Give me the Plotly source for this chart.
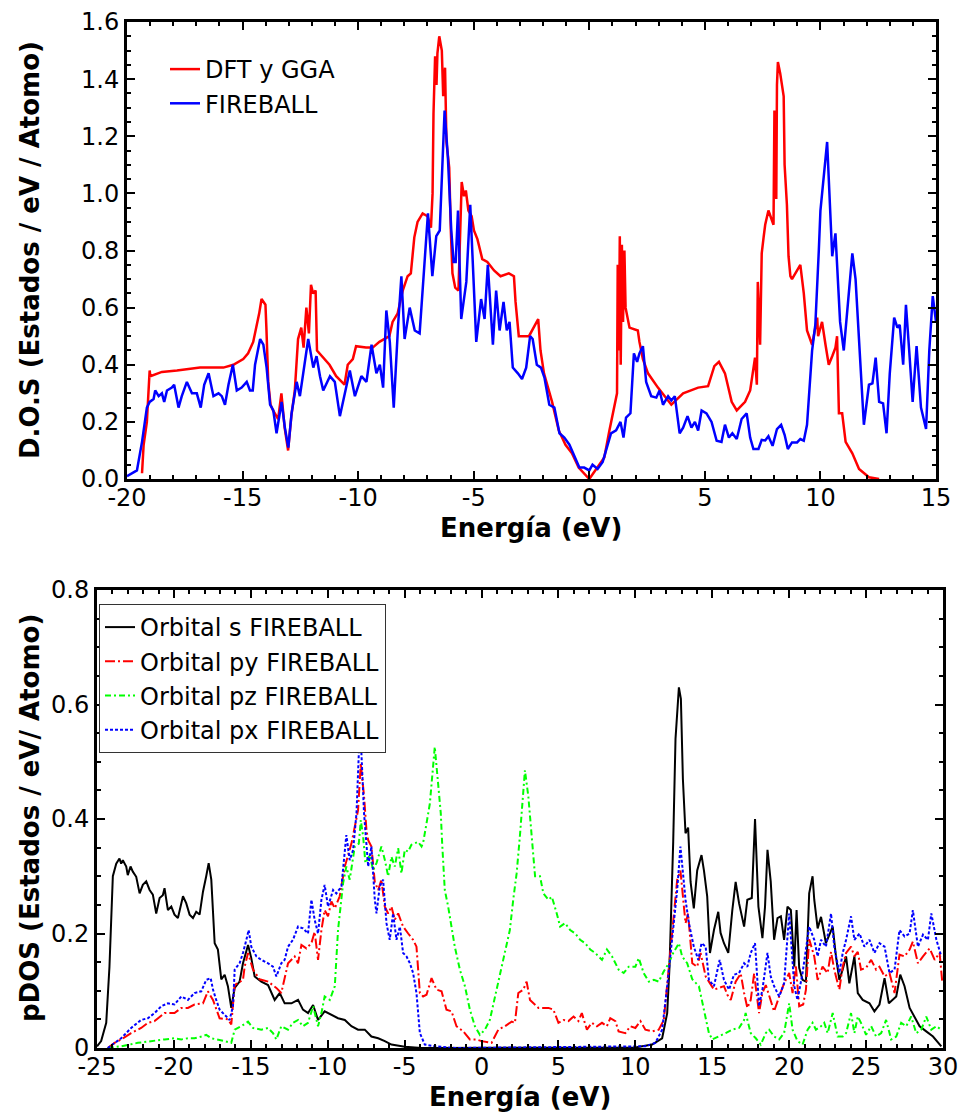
import plotly.graph_objects as go

# ---------------- Top panel: total DOS ----------------
dft_x = [-19.35, -19.28, -19.14, -19.07, -19.02, -18.99, -18.49, -17.84, -16.84, -15.83, -15.40, -14.97,
         -14.76, -14.54, -14.40, -14.28, -14.18, -14.08, -14.01, -13.97, -13.89, -13.79, -13.68, -13.46,
         -13.32, -13.18, -13.03, -12.89, -12.74, -12.60, -12.46, -12.36, -12.24, -12.13, -12.04, -11.95,
         -11.84, -11.78, -11.52, -11.24, -10.95, -10.59, -10.45, -10.23, -10.09, -9.66, -9.37, -9.08,
         -8.65, -8.51, -8.29, -8.07, -7.86, -7.72, -7.57, -7.43, -7.21, -7.00, -6.85, -6.78, -6.74,
         -6.67, -6.61, -6.57, -6.49, -6.38, -6.32, -6.24, -6.18, -6.06, -5.99, -5.92, -5.80, -5.66,
         -5.52, -5.42, -5.34, -5.23, -5.09, -4.99, -4.84, -4.63, -4.41, -4.12, -3.84, -3.48, -3.26,
         -3.19, -3.05, -2.61, -2.21, -2.11, -1.96, -1.61, -1.32, -1.03, -0.75, -0.46, 0.0,
         0.65, 0.87, 1.09, 1.20, 1.23, 1.28, 1.32, 1.36, 1.41, 1.46, 1.52, 1.57, 1.74, 2.10, 2.17,
         2.32, 2.54, 2.97, 3.55, 4.06, 4.71, 5.14, 5.41, 5.61, 5.87, 6.16, 6.38, 6.74, 6.96, 7.17,
         7.25, 7.29, 7.39, 7.46, 7.54, 7.61, 7.75, 7.97, 8.01, 8.09, 8.12, 8.16, 8.26, 8.41, 8.45,
         8.55, 8.62, 8.70, 8.77, 8.91, 9.13, 9.28, 9.42, 9.64, 9.86, 9.90, 10.07, 10.22, 10.36, 10.51,
         10.65, 10.72, 10.80, 10.94, 11.09, 11.38, 11.67, 12.10, 12.54]
dft_y = [0.02, 0.12, 0.20, 0.30, 0.38, 0.36, 0.375, 0.38, 0.39, 0.39, 0.40, 0.42,
         0.44, 0.48, 0.53, 0.58, 0.63, 0.62, 0.61, 0.53, 0.34, 0.26, 0.24, 0.21,
         0.30, 0.18, 0.10, 0.22, 0.31, 0.49, 0.53, 0.46, 0.60, 0.51, 0.68, 0.65,
         0.66, 0.45, 0.425, 0.40, 0.36, 0.33, 0.40, 0.42, 0.465, 0.46, 0.46, 0.48,
         0.50, 0.55, 0.58, 0.66, 0.71, 0.72, 0.846, 0.90, 0.93, 0.92, 0.88, 1.00, 1.28,
         1.48, 1.38, 1.49, 1.55, 1.50, 1.34, 1.44, 1.18, 1.09, 0.87, 0.72, 0.67, 0.66,
         1.04, 0.99, 1.01, 0.94, 0.92, 0.87, 0.84, 0.77, 0.76, 0.73, 0.71, 0.72, 0.71,
         0.62, 0.50, 0.50, 0.56, 0.45, 0.37, 0.27, 0.17, 0.12, 0.09, 0.04, 0.0,
         0.075, 0.17, 0.25, 0.30, 0.75, 0.45, 0.85, 0.40, 0.82, 0.55, 0.80, 0.60, 0.53, 0.52, 0.48,
         0.42, 0.37, 0.32, 0.26, 0.30, 0.32, 0.325, 0.395, 0.41, 0.37, 0.27, 0.24, 0.27, 0.31, 0.425,
         0.33, 0.69, 0.47, 0.79, 0.845, 0.89, 0.94, 0.89, 1.29, 0.98, 1.38, 1.46, 1.42, 1.34, 1.10,
         0.96, 0.78, 0.71, 0.70, 0.72, 0.75, 0.65, 0.52, 0.47, 0.565, 0.50, 0.55, 0.47, 0.40, 0.43,
         0.46, 0.50, 0.23, 0.23, 0.13, 0.09, 0.035, 0.006, 0.0]

fb_x = [-20.00, -19.57, -19.35, -19.14, -19.02, -18.85, -18.78, -18.63, -18.49, -18.39, -18.27, -18.06,
        -17.96, -17.77, -17.63, -17.41, -17.19, -16.98, -16.81, -16.66, -16.47, -16.26, -16.04, -15.90,
        -15.76, -15.61, -15.42, -15.25, -15.04, -14.82, -14.68, -14.56, -14.46, -14.24, -14.10, -13.96,
        -13.81, -13.67, -13.53, -13.31, -13.17, -13.02, -12.88, -12.66, -12.52, -12.37, -12.16, -11.94,
        -11.80, -11.65, -11.51, -11.22, -11.01, -10.79, -10.58, -10.36, -10.14, -9.86, -9.64, -9.42,
        -9.21, -9.06, -8.92, -8.78, -8.63, -8.46, -8.27, -8.13, -7.99, -7.77, -7.55, -7.34, -6.98,
        -6.79, -6.62, -6.47, -6.26, -6.12, -5.97, -5.87, -5.78, -5.68, -5.54, -5.32, -5.15, -4.89,
        -4.68, -4.53, -4.39, -4.17, -4.03, -3.88, -3.71, -3.57, -3.45, -3.31, -3.09, -2.91, -2.73,
        -2.56, -2.45, -2.27, -2.09, -1.94, -1.73, -1.51, -1.29, -1.08, -0.86, -0.65, -0.43, -0.22,
        0.0, 0.14, 0.36, 0.58, 0.72, 0.94, 1.16, 1.35, 1.48, 1.59, 1.78, 1.93, 2.07, 2.17, 2.32,
        2.46, 2.68, 2.90, 3.04, 3.19, 3.41, 3.55, 3.70, 3.91, 4.06, 4.25, 4.42, 4.57, 4.71, 4.86,
        5.07, 5.29, 5.51, 5.72, 5.87, 6.04, 6.19, 6.38, 6.59, 6.81, 6.96, 7.10, 7.32, 7.46, 7.61,
        7.75, 7.93, 8.12, 8.30, 8.45, 8.59, 8.77, 8.99, 9.13, 9.28, 9.42, 9.64, 9.78, 9.93, 10.00,
        10.29, 10.51, 10.65, 10.85, 11.01, 11.23, 11.38, 11.52, 11.67, 11.88, 12.10, 12.25, 12.39,
        12.54, 12.71, 12.86, 13.00, 13.19, 13.33, 13.43, 13.58, 13.70, 13.84, 13.99, 14.16, 14.35,
        14.57, 14.71, 14.86, 15.00]
fb_y = [0.01, 0.03, 0.13, 0.25, 0.27, 0.28, 0.31, 0.29, 0.30, 0.27, 0.31, 0.32,
        0.33, 0.25, 0.29, 0.34, 0.30, 0.30, 0.25, 0.33, 0.37, 0.29, 0.30, 0.29,
        0.26, 0.33, 0.40, 0.31, 0.32, 0.34, 0.31, 0.31, 0.40, 0.49, 0.47, 0.39,
        0.26, 0.24, 0.16, 0.27, 0.18, 0.11, 0.23, 0.34, 0.29, 0.38, 0.49, 0.39,
        0.43, 0.36, 0.31, 0.36, 0.34, 0.22, 0.30, 0.38, 0.29, 0.36, 0.34, 0.47,
        0.37, 0.40, 0.32, 0.59, 0.48, 0.25, 0.54, 0.71, 0.49, 0.60, 0.52, 0.51, 0.93,
        0.71, 0.85, 0.87, 1.29, 1.13, 0.87, 0.76, 0.76, 0.94, 0.56, 0.69, 0.96, 0.48,
        0.63, 0.56, 0.75, 0.47, 0.66, 0.52, 0.62, 0.52, 0.55, 0.39, 0.37, 0.35, 0.39,
        0.50, 0.49, 0.40, 0.39, 0.355, 0.26, 0.25, 0.16, 0.145, 0.12, 0.08, 0.04, 0.04,
        0.03, 0.05, 0.035, 0.06, 0.10, 0.16, 0.17, 0.20, 0.145, 0.215, 0.23, 0.44, 0.41, 0.44, 0.465,
        0.34, 0.29, 0.285, 0.31, 0.26, 0.29, 0.275, 0.29, 0.16, 0.18, 0.22, 0.18, 0.20, 0.17, 0.24,
        0.23, 0.20, 0.134, 0.13, 0.19, 0.145, 0.16, 0.14, 0.21, 0.23, 0.145, 0.105, 0.105, 0.137, 0.135,
        0.15, 0.116, 0.175, 0.19, 0.155, 0.105, 0.128, 0.128, 0.14, 0.134, 0.19, 0.45, 0.54, 0.80, 0.94,
        1.18, 0.78, 0.86, 0.55, 0.45, 0.66, 0.79, 0.70, 0.48, 0.19, 0.33, 0.335, 0.425,
        0.27, 0.265, 0.16, 0.37, 0.565, 0.53, 0.54, 0.40, 0.61, 0.45, 0.27, 0.465, 0.25,
        0.175, 0.45, 0.64, 0.55]

# ---------------- Bottom panel: projected DOS ----------------
s_x = [-25.0, -24.73, -24.40, -24.19, -23.97, -23.75, -23.54, -23.43, -23.32, -23.10, -23.00, -22.82,
       -22.67, -22.45, -22.23, -22.02, -21.80, -21.58, -21.37, -21.15, -20.93, -20.72, -20.61, -20.39,
       -20.17, -19.96, -19.74, -19.41, -19.20, -18.98, -18.76, -18.55, -18.33, -18.11, -17.90, -17.74,
       -17.57, -17.35, -17.14, -16.92, -16.70, -16.49, -16.27, -16.05, -15.73, -15.51, -15.18, -14.97,
       -14.75, -14.32, -13.88, -13.45, -13.12, -12.80, -12.36, -11.93, -11.61, -11.28, -10.95, -10.63,
       -10.20, -9.76, -9.33, -8.89, -8.46, -8.03, -7.59, -7.16, -6.72, -6.29, -5.86, -4.99, -3.90,
       10.00, 11.09, 11.74, 12.07, 12.22, 12.35, 12.46, 12.61, 12.83, 12.96, 13.09, 13.26, 13.43,
       13.59, 13.80, 14.02, 14.30, 14.46, 14.67, 14.85, 15.11, 15.39, 15.54, 15.76, 16.04, 16.30,
       16.52, 16.74, 17.07, 17.28, 17.57, 17.78, 18.00, 18.26, 18.43, 18.59, 18.80, 19.02, 19.24,
       19.46, 19.67, 19.89, 20.11, 20.33, 20.48, 20.65, 20.87, 21.09, 21.30, 21.52, 21.63, 21.85,
       22.07, 22.39, 22.83, 23.04, 23.26, 23.48, 23.70, 23.91, 24.24, 24.46, 24.78, 25.22, 25.54,
       25.87, 26.20, 26.48, 26.74, 26.96, 27.22, 27.50, 27.83, 28.15, 28.48, 28.91, 29.35, 29.89]
s_y = [0.003, 0.012, 0.044, 0.142, 0.300, 0.322, 0.331, 0.322, 0.328, 0.317, 0.302, 0.317,
       0.308, 0.299, 0.270, 0.285, 0.291, 0.276, 0.268, 0.235, 0.262, 0.267, 0.279, 0.241,
       0.247, 0.233, 0.227, 0.265, 0.253, 0.233, 0.227, 0.238, 0.233, 0.273, 0.300, 0.323,
       0.294, 0.183, 0.172, 0.120, 0.128, 0.108, 0.070, 0.105, 0.116, 0.148, 0.180, 0.157,
       0.125, 0.116, 0.110, 0.084, 0.096, 0.078, 0.078, 0.084, 0.067, 0.061, 0.075, 0.049,
       0.064, 0.058, 0.052, 0.049, 0.038, 0.032, 0.032, 0.020, 0.017, 0.012, 0.006, 0.002, 0.0,
       0.001, 0.006, 0.017, 0.061, 0.142, 0.259, 0.360, 0.540, 0.630, 0.610, 0.470, 0.375, 0.385,
       0.290, 0.244, 0.310, 0.337, 0.310, 0.265, 0.166, 0.206, 0.238, 0.201, 0.183, 0.166, 0.240,
       0.290, 0.253, 0.212, 0.259, 0.262, 0.400, 0.247, 0.192, 0.247, 0.346, 0.291, 0.189, 0.227,
       0.230, 0.189, 0.247, 0.241, 0.142, 0.241, 0.140, 0.119, 0.116, 0.270, 0.300, 0.259, 0.209,
       0.229, 0.183, 0.212, 0.160, 0.119, 0.137, 0.160, 0.113, 0.160, 0.096, 0.084, 0.078, 0.064,
       0.076, 0.122, 0.078, 0.084, 0.090, 0.128, 0.108, 0.070, 0.055, 0.038, 0.029, 0.020, 0.003]

py_x = [-24.30, -23.86, -23.43, -22.78, -22.13, -21.69, -21.26, -20.61, -19.96, -19.52, -19.09, -18.66,
        -18.11, -17.79, -17.46, -17.25, -17.03, -16.49, -16.27, -16.05, -15.73, -15.51, -15.40, -15.18,
        -14.86, -14.43, -13.88, -13.34, -13.02, -12.58, -12.15, -11.93, -11.71, -11.39, -11.06, -10.85,
        -10.63, -10.41, -10.20, -9.98, -9.76, -9.54, -9.22, -8.89, -8.46, -8.24, -8.03, -7.85, -7.64,
        -7.48, -7.37, -7.16, -6.94, -6.72, -6.51, -6.29, -6.07, -5.86, -5.64, -5.42, -5.10, -4.77,
        -4.45, -4.23, -4.01, -3.80, -3.58, -3.25, -2.93, -2.60, -2.28, -1.95, -1.63, -1.19, -0.76,
        -0.33, 0.00, 0.65, 1.09, 1.52, 1.96, 2.17, 2.39, 2.72, 2.93, 3.15, 3.37, 3.70, 4.02, 4.35,
        4.67, 5.00, 5.33, 5.65, 5.98, 6.30, 6.52, 6.85, 7.17, 7.50, 7.83, 8.15, 8.37, 8.70, 8.91,
        9.35, 9.67, 10.00, 10.33, 10.65, 11.09, 11.52, 11.85, 12.17, 12.46, 12.72, 12.93, 13.09,
        13.26, 13.43, 13.70, 14.02, 14.24, 14.57, 14.89, 15.11, 15.43, 15.76, 15.98, 16.20, 16.52,
        16.85, 17.07, 17.28, 17.50, 17.72, 18.04, 18.26, 18.48, 18.70, 19.02, 19.35, 19.67, 20.00,
        20.22, 20.43, 20.65, 20.91, 21.09, 21.30, 21.63, 21.85, 22.17, 22.50, 22.72, 22.93, 23.26,
        23.48, 23.70, 24.02, 24.24, 24.46, 24.67, 25.00, 25.33, 25.65, 25.87, 26.20, 26.52, 26.85,
        27.17, 27.50, 27.83, 28.04, 28.37, 28.70, 29.13, 29.46, 29.78, 29.96]
py_y = [0.0, 0.009, 0.015, 0.026, 0.035, 0.044, 0.047, 0.061, 0.061, 0.070, 0.070, 0.076,
        0.078, 0.099, 0.084, 0.067, 0.052, 0.050, 0.041, 0.110, 0.116, 0.119, 0.142, 0.166,
        0.137, 0.120, 0.116, 0.105, 0.096, 0.148, 0.160, 0.148, 0.180, 0.174, 0.183, 0.203,
        0.154, 0.206, 0.241, 0.230, 0.256, 0.244, 0.265, 0.317, 0.357, 0.387, 0.415, 0.497, 0.440,
        0.380, 0.363, 0.352, 0.290, 0.276, 0.294, 0.247, 0.235, 0.247, 0.224, 0.235, 0.212, 0.200,
        0.189, 0.177, 0.096, 0.090, 0.093, 0.122, 0.102, 0.099, 0.067, 0.064, 0.038, 0.029, 0.015,
        0.015, 0.012, 0.009, 0.032, 0.038, 0.046, 0.044, 0.096, 0.102, 0.116, 0.084, 0.078, 0.070, 0.070, 0.070,
        0.067, 0.044, 0.049, 0.047, 0.055, 0.047, 0.061, 0.032, 0.044, 0.038, 0.044, 0.038, 0.052, 0.047, 0.029,
        0.026, 0.038, 0.035, 0.047, 0.032, 0.029, 0.032, 0.049, 0.137, 0.224, 0.294, 0.310, 0.265,
        0.218, 0.235, 0.148, 0.142, 0.166, 0.125, 0.110, 0.102, 0.105, 0.108, 0.093, 0.084, 0.116,
        0.130, 0.096, 0.070, 0.084, 0.130, 0.061, 0.096, 0.110, 0.090, 0.064, 0.090, 0.113, 0.131,
        0.096, 0.145, 0.073, 0.076, 0.102, 0.190, 0.160, 0.119, 0.142, 0.131, 0.168, 0.137, 0.102,
        0.142, 0.166, 0.177, 0.160, 0.168, 0.137, 0.140, 0.154, 0.137, 0.142, 0.125, 0.131, 0.096,
        0.163, 0.160, 0.172, 0.186, 0.148, 0.160, 0.174, 0.154, 0.166, 0.113]

pz_x = [-24.30, -23.43, -22.34, -21.26, -20.61, -19.96, -19.52, -19.09, -18.66, -18.22, -17.90, -17.57,
        -17.14, -16.70, -16.27, -16.05, -15.62, -15.18, -14.86, -14.32, -13.88, -13.56, -13.34, -13.02,
        -12.58, -12.26, -11.93, -11.61, -11.28, -10.95, -10.63, -10.41, -10.20, -9.87, -9.54, -9.33,
        -9.00, -8.79, -8.57, -8.24, -7.98, -7.85, -7.70, -7.55, -7.27, -7.05, -6.83, -6.51, -6.29,
        -6.07, -5.86, -5.64, -5.42, -5.21, -4.99, -4.77, -4.56, -4.34, -4.12, -3.90, -3.80, -3.58,
        -3.36, -3.04, -2.82, -2.65, -2.56, -2.39, -2.17, -1.95, -1.74, -1.41, -1.08, -0.76, -0.43,
        -0.11, 0.22, 0.54, 0.87, 1.19, 1.52, 1.84, 2.06, 2.28, 2.49, 2.82, 3.04, 3.25, 3.48, 3.80,
        4.02, 4.35, 4.57, 4.89, 5.11, 5.43, 5.76, 6.09, 6.41, 6.74, 7.07, 7.39, 7.83, 8.15, 8.48,
        8.91, 9.24, 9.57, 10.00, 10.22, 10.54, 10.87, 11.20, 11.52, 11.85, 12.17, 12.46, 12.83,
        13.04, 13.37, 13.70, 14.13, 14.46, 14.78, 15.00, 15.43, 15.87, 16.30, 16.74, 17.07, 17.17,
        17.50, 17.83, 18.15, 18.48, 18.70, 19.02, 19.35, 19.67, 20.00, 20.22, 20.54, 20.87, 21.20,
        21.52, 21.74, 22.07, 22.28, 22.50, 22.83, 23.15, 23.48, 23.70, 24.02, 24.24, 24.46, 24.67,
        25.00, 25.33, 25.65, 25.98, 26.30, 26.63, 26.96, 27.28, 27.61, 27.93, 28.26, 28.59, 28.91,
        29.24, 29.57, 29.89]
pz_y = [0.0, 0.003, 0.009, 0.012, 0.015, 0.017, 0.015, 0.017, 0.017, 0.020, 0.023, 0.017,
        0.015, 0.012, 0.009, 0.032, 0.038, 0.046, 0.035, 0.032, 0.035, 0.026, 0.015, 0.038,
        0.032, 0.044, 0.049, 0.038, 0.044, 0.073, 0.038, 0.061, 0.090, 0.084, 0.108, 0.206,
        0.288, 0.317, 0.294, 0.352, 0.357, 0.398, 0.370, 0.323, 0.337, 0.311, 0.323, 0.352, 0.329,
        0.300, 0.334, 0.317, 0.349, 0.305, 0.346, 0.343, 0.355, 0.358, 0.360, 0.352, 0.358, 0.392,
        0.427, 0.526, 0.456, 0.410, 0.357, 0.276, 0.247, 0.212, 0.177, 0.137, 0.108, 0.067, 0.038,
        0.023, 0.032, 0.049, 0.090, 0.125, 0.170, 0.206, 0.259, 0.305, 0.369, 0.485, 0.440, 0.370, 0.300, 0.300,
        0.270, 0.259, 0.264, 0.235, 0.212, 0.218, 0.206, 0.200, 0.189, 0.183, 0.172, 0.166, 0.154, 0.172, 0.160,
        0.137, 0.131, 0.142, 0.142, 0.157, 0.131, 0.116, 0.119, 0.116, 0.134, 0.148, 0.166, 0.183,
        0.160, 0.148, 0.120, 0.108, 0.067, 0.026, 0.015, 0.020, 0.026, 0.032, 0.035, 0.049, 0.061,
        0.026, 0.017, 0.006, 0.026, 0.032, 0.020, 0.015, 0.026, 0.078, 0.032, 0.012, 0.006, 0.032,
        0.044, 0.032, 0.038, 0.044, 0.026, 0.061, 0.020, 0.020, 0.026, 0.061, 0.026, 0.055, 0.044,
        0.023, 0.038, 0.020, 0.026, 0.049, 0.015, 0.020, 0.044, 0.038, 0.055, 0.026, 0.032, 0.055,
        0.032, 0.038, 0.032]

px_x = [-24.30, -23.86, -23.43, -22.78, -22.13, -21.69, -21.26, -20.82, -20.39, -19.96, -19.52, -19.09,
        -18.66, -18.22, -17.90, -17.61, -17.46, -17.25, -17.03, -16.70, -16.38, -16.16, -16.05, -15.73,
        -15.51, -15.29, -15.14, -14.97, -14.64, -14.32, -13.88, -13.56, -13.34, -13.02, -12.80, -12.58,
        -12.26, -11.93, -11.61, -11.28, -11.06, -10.85, -10.63, -10.41, -10.20, -9.98, -9.65, -9.44,
        -9.11, -8.79, -8.57, -8.35, -8.13, -7.92, -7.81, -7.64, -7.37, -7.16, -6.94, -6.83, -6.62,
        -6.40, -6.18, -5.97, -5.75, -5.53, -5.31, -5.10, -4.88, -4.66, -4.45, -4.23, -4.01, -3.69,
        -3.04, -1.74, 10.65, 11.30, 11.74, 12.07, 12.39, 12.72, 12.93, 13.09, 13.26, 13.48, 13.80,
        14.09, 14.30, 14.57, 14.78, 15.11, 15.48, 15.76, 16.09, 16.41, 16.74, 17.07, 17.28, 17.50,
        17.78, 18.04, 18.26, 18.59, 18.80, 19.02, 19.35, 19.67, 20.00, 20.33, 20.54, 20.87, 21.30,
        21.63, 21.85, 22.07, 22.39, 22.72, 22.93, 23.26, 23.48, 23.70, 24.02, 24.24, 24.57, 24.89,
        25.22, 25.54, 25.87, 26.20, 26.52, 26.85, 27.17, 27.50, 27.83, 28.04, 28.37, 28.70, 29.02,
        29.24, 29.57, 29.89]
px_y = [0.0, 0.009, 0.017, 0.035, 0.049, 0.052, 0.061, 0.073, 0.078, 0.076, 0.090, 0.084,
        0.096, 0.099, 0.119, 0.122, 0.102, 0.084, 0.067, 0.058, 0.049, 0.073, 0.137, 0.148,
        0.166, 0.189, 0.206, 0.177, 0.160, 0.154, 0.148, 0.142, 0.125, 0.148, 0.154, 0.177,
        0.189, 0.212, 0.209, 0.200, 0.259, 0.224, 0.200, 0.259, 0.285, 0.247, 0.276, 0.270,
        0.282, 0.372, 0.328, 0.346, 0.410, 0.555, 0.515, 0.410, 0.317, 0.352, 0.259, 0.235, 0.282,
        0.294, 0.218, 0.189, 0.235, 0.189, 0.212, 0.166, 0.160, 0.148, 0.131, 0.096, 0.026, 0.006,
        0.003, 0.0, 0.003, 0.009, 0.032, 0.108, 0.189, 0.276, 0.352, 0.305, 0.259, 0.218, 0.177,
        0.154, 0.183, 0.177, 0.119, 0.108, 0.154, 0.119, 0.102, 0.128, 0.131, 0.148, 0.142, 0.166,
        0.183, 0.073, 0.102, 0.166, 0.125, 0.108, 0.090, 0.113, 0.235, 0.108, 0.084, 0.131, 0.212,
        0.189, 0.160, 0.189, 0.177, 0.235, 0.177, 0.131, 0.166, 0.189, 0.230, 0.189, 0.200, 0.177,
        0.189, 0.166, 0.183, 0.177, 0.131, 0.137, 0.206, 0.195, 0.200, 0.241, 0.177, 0.198, 0.189,
        0.235, 0.189, 0.160]

top_xticks = [-20, -15, -10, -5, 0, 5, 10, 15]
top_xlabels = ["-20", "-15", "-10", "-5", "0", "5", "10", "15"]
top_yticks = [0.0, 0.2, 0.4, 0.6, 0.8, 1.0, 1.2, 1.4, 1.6]
top_ylabels = ["0.0", "0.2", "0.4", "0.6", "0.8", "1.0", "1.2", "1.4", "1.6"]
bot_xticks = [-25, -20, -15, -10, -5, 0, 5, 10, 15, 20, 25, 30]
bot_xlabels = ["-25", "-20", "-15", "-10", "-5", "0", "5", "10", "15", "20", "25", "30"]
bot_yticks = [0, 0.2, 0.4, 0.6, 0.8]
bot_ylabels = ["0", "0.2", "0.4", "0.6", "0.8"]

FONT = "DejaVu Sans"
W, H = 961, 1113

fig = go.Figure()
fig.add_trace(go.Scatter(x=dft_x, y=dft_y, mode="lines", name="DFT y GGA",
                         line=dict(color="#ff0000", width=2.5), xaxis="x", yaxis="y", legend="legend"))
fig.add_trace(go.Scatter(x=fb_x, y=fb_y, mode="lines", name="FIREBALL",
                         line=dict(color="#0000ff", width=2.5), xaxis="x", yaxis="y", legend="legend"))

fig.add_trace(go.Scatter(x=s_x, y=s_y, mode="lines", name="Orbital s FIREBALL",
                         line=dict(color="#000000", width=2), xaxis="x2", yaxis="y2", legend="legend2"))
fig.add_trace(go.Scatter(x=py_x, y=py_y, mode="lines", name="Orbital py FIREBALL",
                         line=dict(color="#ff0000", width=2, dash="10px,3px,2px,3px"),
                         xaxis="x2", yaxis="y2", legend="legend2"))
fig.add_trace(go.Scatter(x=pz_x, y=pz_y, mode="lines", name="Orbital pz FIREBALL",
                         line=dict(color="#00ff00", width=2, dash="6px,3px,2px,3px"),
                         xaxis="x2", yaxis="y2", legend="legend2"))
fig.add_trace(go.Scatter(x=px_x, y=px_y, mode="lines", name="Orbital px FIREBALL",
                         line=dict(color="#0000ff", width=2, dash="3px,2px"),
                         xaxis="x2", yaxis="y2", legend="legend2"))

def ax(domain, rng, tickvals, ticktext, minor_dtick, anchor, standoff):
    return dict(domain=domain, range=rng, tickvals=tickvals, ticktext=ticktext,
                showgrid=False, zeroline=False,
                showline=True, linecolor="black", linewidth=3, mirror="allticks",
                ticks="inside", ticklen=8, tickwidth=2, tickcolor="black",
                tickfont=dict(family=FONT, size=24, color="black"),
                ticklabelstandoff=standoff,
                minor=dict(ticks="inside", ticklen=4, tickwidth=2, tickcolor="black",
                           dtick=minor_dtick, showgrid=False),
                anchor=anchor, fixedrange=True, automargin=False)

fig.update_layout(
    width=W, height=H, margin=dict(l=0, r=0, t=0, b=0, autoexpand=False),
    paper_bgcolor="white", plot_bgcolor="white",
    xaxis=ax([127 / W, 936 / W], [-20, 15], top_xticks, top_xlabels, 1, "y", -5),
    yaxis=ax([1 - 479 / H, 1 - 22 / H], [0, 1.6], top_yticks, top_ylabels, 0.05, "x", 0),
    xaxis2=ax([97 / W, 943 / W], [-25, 30], bot_xticks, bot_xlabels, 1, "y2", -5),
    yaxis2=ax([1 - 1048 / H, 1 - 590 / H], [0, 0.8], bot_yticks, bot_ylabels, 0.05, "x2", 0),
    legend=dict(x=165 / W, y=1 - 47 / H, xanchor="left", yanchor="top",
                bgcolor="rgba(0,0,0,0)", borderwidth=0, itemwidth=30,
                font=dict(family=FONT, size=24, color="black"), tracegroupgap=0),
    legend2=dict(x=99 / W, y=1 - 604 / H, xanchor="left", yanchor="top",
                 bgcolor="white", bordercolor="#333333", borderwidth=1, itemwidth=30,
                 font=dict(family=FONT, size=24, color="black"), tracegroupgap=0),
    showlegend=True,
    annotations=[
        dict(text="<b>Energía (eV)</b>", x=531 / W, y=1 - 528 / H, xref="paper", yref="paper",
             xanchor="center", yanchor="middle", showarrow=False,
             font=dict(family=FONT, size=26, color="black")),
        dict(text="<b>Energía (eV)</b>", x=520 / W, y=1 - 1097 / H, xref="paper", yref="paper",
             xanchor="center", yanchor="middle", showarrow=False,
             font=dict(family=FONT, size=26, color="black")),
        dict(text="<b>D.O.S (Estados / eV / Atomo)</b>", x=30 / W, y=1 - 250 / H, xref="paper",
             yref="paper", xanchor="center", yanchor="middle", showarrow=False, textangle=-90,
             font=dict(family=FONT, size=26, color="black")),
        dict(text="<b>pDOS (Estados / eV/ Atomo)</b>", x=30 / W, y=1 - 818 / H, xref="paper",
             yref="paper", xanchor="center", yanchor="middle", showarrow=False, textangle=-90,
             font=dict(family=FONT, size=26, color="black")),
    ],
)

fig.write_html("out.html")
